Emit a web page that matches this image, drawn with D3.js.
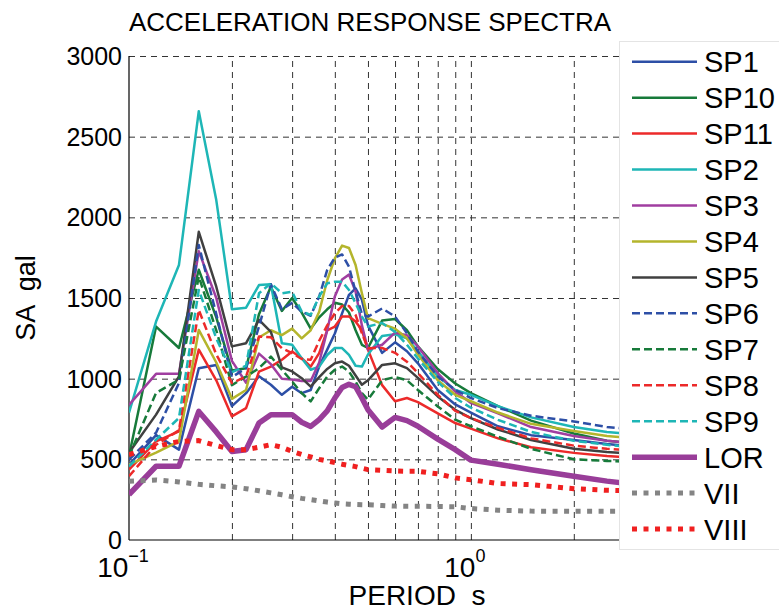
<!DOCTYPE html>
<html>
<head>
<meta charset="utf-8">
<script src="https://cdn.jsdelivr.net/npm/d3@7"></script>
<style>
  body { margin: 0; background: #fff; }
  svg { font-family: "Liberation Sans", Arial, sans-serif; }
</style>
</head>
<body>
<div id="chart"></div>
<script>
// periods (s)
const periods = [0.1, 0.12, 0.14, 0.16, 0.18, 0.2, 0.22, 0.24, 0.26, 0.28, 0.3, 0.32, 0.34, 0.36, 0.38, 0.4,
                 0.42, 0.44, 0.46, 0.48, 0.5, 0.55, 0.6, 0.65, 0.7, 0.8, 0.9, 1.0, 1.2, 1.5, 2.0, 2.5, 3.0];

// spectral acceleration (gal)
const sp1 = [467, 650, 560, 1065, 1085, 830, 910, 1015, 962, 900, 950, 910, 930, 1075, 1180, 1280,
             1405, 1520, 1560, 1490, 1330, 1160, 1225, 1170, 1095, 930, 840, 790, 705, 650, 620, 595, 580];
const sp10 = [520, 1323, 1190, 1675, 1380, 1050, 1065, 1400, 1570, 1420, 1500, 1410, 1310, 1380, 1430, 1470,
              1460, 1410, 1300, 1210, 1190, 1360, 1370, 1300, 1200, 1060, 970, 910, 830, 740, 660, 615, 600];
const sp11 = [436, 611, 673, 1180, 990, 766, 817, 1044, 1075, 1117, 1168, 1127, 1075, 1158, 1300, 1323,
              1385, 1385, 1354, 1300, 1180, 960, 860, 880, 855, 785, 725, 690, 630, 575, 540, 520, 510];
const sp2 = [790, 1354, 1705, 2658, 2107, 1430, 1440, 1580, 1585, 1220, 1210, 1127, 1055, 1075, 1147, 1190,
             1190, 1147, 1080, 1075, 1150, 1265, 1275, 1250, 1170, 1015, 930, 900, 830, 760, 700, 670, 655];
const sp3 = [838, 1030, 1030, 1790, 1500, 1110, 975, 1155, 1090, 1000, 995, 985, 985, 1100, 1300, 1510,
             1615, 1645, 1540, 1330, 1180, 1210, 1285, 1270, 1200, 1035, 920, 850, 785, 700, 645, 615, 600];
const sp4 = [467, 541, 611, 1302, 1100, 875, 930, 1255, 1300, 1270, 1310, 1250, 1300, 1415, 1610, 1745,
             1825, 1810, 1705, 1530, 1375, 1340, 1310, 1250, 1150, 990, 900, 860, 790, 720, 675, 645, 630];
const sp5 = [541, 777, 1014, 1910, 1570, 1200, 1220, 1364, 1290, 1070, 1045, 1003, 951, 1010, 1060, 1096,
             1106, 1080, 1020, 962, 990, 1085, 1095, 1065, 1005, 890, 807, 756, 685, 620, 565, 545, 535];
const sp6 = [498, 665, 973, 1828, 1400, 1010, 1065, 1323, 1585, 1430, 1470, 1415, 1390, 1509, 1674, 1750,
             1770, 1694, 1540, 1400, 1385, 1435, 1385, 1282, 1168, 1014, 931, 880, 818, 770, 735, 700, 685];
const sp7 = [519, 912, 993, 1633, 1300, 960, 1013, 1065, 1137, 1055, 982, 910, 859, 941, 1013, 1055,
             1075, 1044, 982, 910, 870, 990, 1010, 990, 930, 828, 746, 705, 640, 565, 500, 490, 485];
const sp8 = [395, 590, 680, 1426, 1150, 972, 1013, 1261, 1256, 1189, 1158, 1122, 1117, 1235, 1330, 1405,
             1450, 1451, 1395, 1281, 1189, 1190, 1160, 1105, 1035, 900, 800, 755, 695, 630, 585, 565, 555];
const sp9 = [457, 622, 756, 1550, 1250, 1040, 1080, 1529, 1591, 1529, 1539, 1416, 1395, 1509, 1591, 1601,
             1601, 1550, 1467, 1385, 1323, 1345, 1290, 1210, 1125, 980, 880, 820, 745, 670, 615, 590, 575];
const lor = [282, 457, 457, 797, 670, 549, 560, 725, 777, 777, 777, 730, 704, 746, 800, 880,
             945, 965, 950, 880, 808, 700, 760, 740, 705, 625, 560, 495, 470, 435, 395, 365, 345];
const vii = [364, 372, 360, 345, 336, 329, 318, 305, 292, 280, 268, 258, 250, 242, 235, 229,
             224, 222, 220, 219, 218, 214, 210, 209, 209, 208, 206, 195, 185, 179, 178, 178, 178];
const viii = [529, 580, 611, 616, 585, 560, 560, 575, 591, 575, 549, 530, 515, 500, 490, 480,
              470, 462, 455, 445, 436, 432, 428, 426, 426, 410, 385, 374, 350, 343, 318, 308, 305];

const seriesNames = ["SP1", "SP10", "SP11", "SP2", "SP3", "SP4", "SP5", "SP6", "SP7", "SP8", "SP9", "LOR", "VII", "VIII"];
const seriesValues = [sp1, sp10, sp11, sp2, sp3, sp4, sp5, sp6, sp7, sp8, sp9, lor, vii, viii];

const yTicks = [0, 500, 1000, 1500, 2000, 2500, 3000];
const xGridTicks = [0.2, 0.3, 0.4, 0.5, 0.6, 0.7, 0.8, 0.9, 1, 2, 3];
const xLabelTicks = [{v: 0.1, exp: "\u22121"}, {v: 1, exp: "0"}];

// line styles per series
const styles = {
  SP1:  {color: "#2d4fa6", width: 2.5, dash: null},
  SP10: {color: "#177a3a", width: 2.5, dash: null},
  SP11: {color: "#ec2a2a", width: 2.5, dash: null},
  SP2:  {color: "#1eb6b6", width: 2.5, dash: null},
  SP3:  {color: "#a03ea0", width: 2.5, dash: null},
  SP4:  {color: "#b4b52c", width: 2.5, dash: null},
  SP5:  {color: "#404040", width: 2.5, dash: null},
  SP6:  {color: "#2d4fa6", width: 2.5, dash: "8,4"},
  SP7:  {color: "#177a3a", width: 2.5, dash: "8,4"},
  SP8:  {color: "#ec2a2a", width: 2.5, dash: "8,4"},
  SP9:  {color: "#1eb6b6", width: 2.5, dash: "8,4"},
  LOR:  {color: "#993d99", width: 5.5, dash: null},
  VII:  {color: "#848484", width: 5, dash: "5,6.5"},
  VIII: {color: "#f02020", width: 5, dash: "5,6.5"}
};

const W = 779, H = 611;
const m = {left: 129, top: 56, right: 634, bottom: 540};

const svg = d3.select("#chart").append("svg").attr("width", W).attr("height", H);

const x = d3.scaleLog().domain([0.1, 3]).range([m.left, m.right]);
const y = d3.scaleLinear().domain([0, 3000]).range([m.bottom, m.top]);

svg.append("defs").append("clipPath").attr("id", "plot-clip")
    .append("rect").attr("x", m.left).attr("y", m.top - 5)
    .attr("width", m.right - m.left).attr("height", m.bottom - m.top + 5);

// grid
const grid = svg.append("g").attr("class", "grid");
grid.append("g")
    .attr("transform", `translate(0,${m.bottom})`)
    .call(d3.axisBottom(x).tickValues(xGridTicks).tickSize(-(m.bottom - m.top)).tickFormat(""))
    .call(g => g.select(".domain").remove());
grid.append("g")
    .attr("transform", `translate(${m.left},0)`)
    .call(d3.axisLeft(y).tickValues(yTicks.slice(1)).tickSize(-(m.right - m.left)).tickFormat(""))
    .call(g => g.select(".domain").remove());
grid.selectAll("line")
    .attr("stroke", "#333")
    .attr("stroke-width", 1)
    .attr("stroke-dasharray", "6,5");

// axis lines
svg.append("line").attr("x1", m.left).attr("x2", m.left).attr("y1", m.top).attr("y2", m.bottom)
    .attr("stroke", "#000").attr("stroke-width", 1.2);
svg.append("line").attr("x1", m.left).attr("x2", m.right).attr("y1", m.bottom).attr("y2", m.bottom)
    .attr("stroke", "#000").attr("stroke-width", 1.2);

// y tick labels
svg.append("g").selectAll("text")
    .data(yTicks)
    .join("text")
    .attr("x", m.left - 7)
    .attr("y", d => y(d))
    .attr("dy", "0.36em")
    .attr("text-anchor", "end")
    .attr("font-size", 25)
    .text(d => d);

// x tick labels (10^n)
const xl = svg.append("g").selectAll("text")
    .data(xLabelTicks)
    .join("text")
    .attr("x", d => x(d.v) - 6)
    .attr("y", 577)
    .attr("text-anchor", "middle")
    .attr("font-size", 28);
xl.append("tspan").text("10");
xl.append("tspan").attr("font-size", 18).attr("dy", -15).text(d => d.exp);

// series lines
const line = d3.line()
    .x((d, i) => x(periods[i]))
    .y(d => y(d));

svg.append("g").attr("clip-path", "url(#plot-clip)")
    .selectAll("path")
    .data(seriesNames)
    .join("path")
    .attr("d", name => line(seriesValues[seriesNames.indexOf(name)]))
    .attr("fill", "none")
    .attr("stroke", name => styles[name].color)
    .attr("stroke-width", name => styles[name].width)
    .attr("stroke-dasharray", name => styles[name].dash)
    .attr("stroke-linejoin", "round");

// title and axis labels
svg.append("text")
    .attr("x", 370).attr("y", 31)
    .attr("text-anchor", "middle")
    .attr("font-size", 26)
    .text("ACCELERATION RESPONSE SPECTRA");

svg.append("text")
    .attr("transform", "translate(35,298) rotate(-90)")
    .attr("text-anchor", "middle")
    .attr("font-size", 27)
    .style("white-space", "pre")
    .text("SA  gal");

svg.append("text")
    .attr("x", 417).attr("y", 605)
    .attr("text-anchor", "middle")
    .attr("font-size", 28)
    .style("white-space", "pre")
    .text("PERIOD  s");

// legend
const lg = svg.append("g");
lg.append("rect")
    .attr("x", 619.5).attr("y", 41.5)
    .attr("width", 200).attr("height", 508)
    .attr("fill", "#fff")
    .attr("stroke", "#e4e4e4");

const rows = lg.selectAll("g.row")
    .data(seriesNames)
    .join("g")
    .attr("class", "row")
    .attr("transform", (d, i) => `translate(0,${61.7 + i * 35.95})`);
rows.append("line")
    .attr("x1", 632).attr("x2", 697)
    .attr("stroke", d => styles[d].color)
    .attr("stroke-width", d => styles[d].width)
    .attr("stroke-dasharray", d => styles[d].dash);
rows.append("text")
    .attr("x", 704)
    .attr("dy", "0.36em")
    .attr("font-size", 29)
    .text(d => d);
</script>
</body>
</html>
